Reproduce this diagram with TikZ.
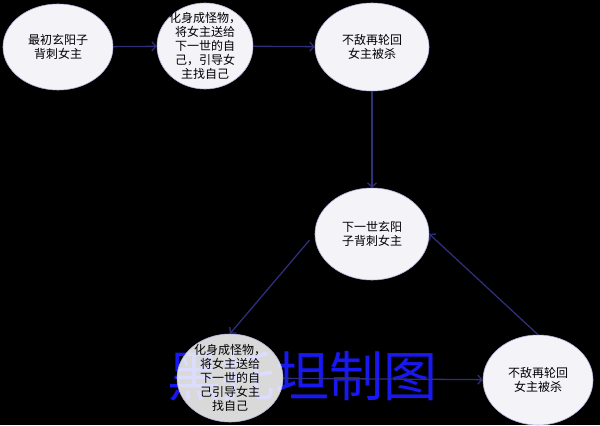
\documentclass[tikz,border=0pt]{standalone}
\usepackage{fontspec}
\newfontfamily\cjk{Noto Sans CJK SC}
\usetikzlibrary{shapes}
\usetikzlibrary{arrows.meta}

\definecolor{navy}{HTML}{2E2E7A}
\definecolor{ovalfill}{HTML}{F3F3F8}
\definecolor{ovalrim}{HTML}{B4B4DC}
\definecolor{stamp}{HTML}{1818F0}

\begin{document}
\begin{tikzpicture}[x=1pt, y=-1pt,
    oval/.style={ellipse, fill=ovalfill, draw=ovalrim, line width=0.6pt},
    txt/.style={align=center, font=\cjk\fontsize{12}{14}\selectfont},
    link/.style={draw=navy, line width=1.3pt, -{Straight Barb[length=4pt,width=9pt]}}]
    \fill[black] (0,0) rectangle (600,425);

    % watermark behind the lower nodes
    \node[text=stamp, font=\cjk\fontsize{54}{54}\selectfont] (stamp) at (302,376) {黑托坦制图};

    % the ovals
    \node[oval, minimum width=110pt, minimum height=86pt] (first) at (58,47) {};
    \node[oval, minimum width=96pt, minimum height=86pt] (monster) at (205,46) {};
    \node[oval, minimum width=114pt, minimum height=88pt] (killed) at (372,47) {};
    \node[oval, minimum width=114pt, minimum height=92pt] (next) at (372,234) {};
    \node[oval, fill=white, fill opacity=0.85, minimum width=106pt, minimum height=88pt] (monster2) at (230,378) {};
    \node[oval, minimum width=110pt, minimum height=90pt] (killed2) at (538,380) {};

    \node[txt] at (first) {最初玄阳子\\背刺女主};
    \node[txt] at (monster) {化身成怪物，\\将女主送给\\下一世的自\\己，引导女\\主找自己};
    \node[txt] at (killed) {不敌再轮回\\女主被杀};
    \node[txt] at (next) {下一世玄阳\\子背刺女主};
    \node[txt] at (monster2) {化身成怪物，\\将女主送给\\下一世的自\\己引导女主\\找自己};
    \node[txt] at (killed2) {不敌再轮回\\女主被杀};

    % arrows
    \draw[link] (first) -- (monster);
    \draw[link] (monster) -- (killed);
    \draw[link] (killed) -- (next);
    \draw[link, shorten <=8pt] (next.west) -- (monster2.north);
    \draw[link] (monster2) -- (killed2);
    \draw[link] (killed2.north) -- (next.east);
\end{tikzpicture}
\end{document}
